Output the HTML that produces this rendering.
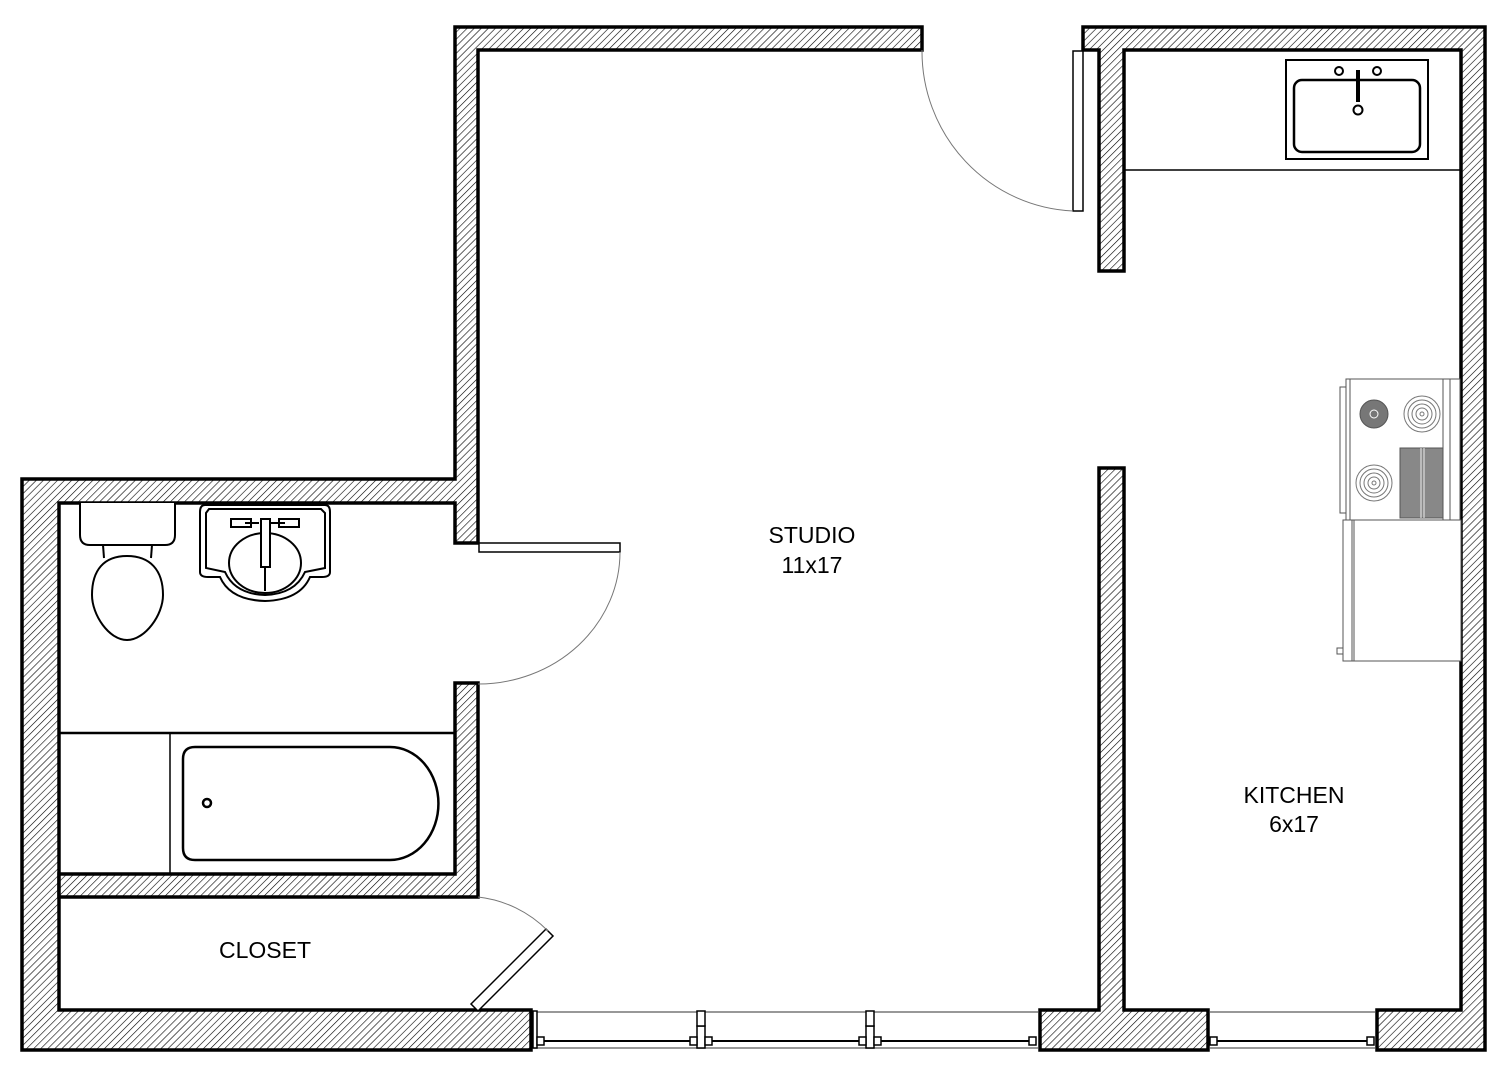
<!DOCTYPE html>
<html><head><meta charset="utf-8"><style>
html,body{margin:0;padding:0;background:#fff;}
svg{display:block;}
text{font-family:"Liberation Sans",Arial,sans-serif;font-size:23px;fill:#000;}
</style></head><body>
<svg width="1499" height="1065" viewBox="0 0 1499 1065" xmlns="http://www.w3.org/2000/svg">
<defs>
<pattern id="h" width="5" height="5" patternUnits="userSpaceOnUse" patternTransform="rotate(45)">
<rect width="5" height="5" fill="#fff"/>
<line x1="0" y1="0" x2="0" y2="5" stroke="#000" stroke-width="1.2"/>
</pattern>
</defs>
<rect width="1499" height="1065" fill="#fff"/>
<g fill="url(#h)" stroke="#000" stroke-width="3.5" stroke-linejoin="miter">
<polygon points="455,27 922,27 922,50 478,50 478,543 455,543 455,503 59,503 59,1010 531,1010 531,1050 22,1050 22,479 455,479"/>
<polygon points="455,683 478,683 478,897 59,897 59,874 455,874"/>
<polygon points="1083,27 1485,27 1485,1050 1377,1050 1377,1010 1461,1010 1461,50 1124,50 1124,271 1099,271 1099,50 1083,50"/>
<polygon points="1099,468 1124,468 1124,1010 1208,1010 1208,1050 1040,1050 1040,1010 1099,1010"/>
</g>
<!-- windows -->
<g fill="none" stroke="#000">
<line x1="533" y1="1012" x2="1038" y2="1012" stroke="#777" stroke-width="1.5"/>
<line x1="533" y1="1048" x2="1038" y2="1048" stroke="#777" stroke-width="1.5"/>
<line x1="540" y1="1041" x2="1033" y2="1041" stroke-width="2"/>
<line x1="1210" y1="1012" x2="1375" y2="1012" stroke="#777" stroke-width="1.5"/>
<line x1="1210" y1="1048" x2="1375" y2="1048" stroke="#777" stroke-width="1.5"/>
<line x1="1216" y1="1041" x2="1371" y2="1041" stroke-width="2"/>
<g stroke-width="1.5" fill="#fff">
<rect x="533" y="1011" width="4" height="37"/>
<rect x="537" y="1037" width="7" height="8"/>
<rect x="697" y="1026" width="8" height="22"/><rect x="697" y="1011" width="8" height="15"/>
<rect x="690" y="1037" width="7" height="8"/><rect x="705" y="1037" width="7" height="8"/>
<rect x="866" y="1026" width="8" height="22"/><rect x="866" y="1011" width="8" height="15"/>
<rect x="859" y="1037" width="7" height="8"/><rect x="874" y="1037" width="7" height="8"/>
<rect x="1029" y="1037" width="7" height="8"/>
<rect x="1210" y="1037" width="7" height="8"/>
<rect x="1367" y="1037" width="7" height="8"/>
</g>
</g>
<!-- doors -->
<g fill="#fff" stroke="#000" stroke-width="1.5">
<rect x="1073" y="51" width="10" height="160"/>
<rect x="479" y="543" width="141" height="9"/>
<polygon points="471,1004 546,929 553,936 478,1011"/>
</g>
<g fill="none" stroke="#777" stroke-width="1">
<path d="M922,50 A158 160 0 0 0 1073,211"/>
<path d="M620,552 A142 132 0 0 1 478,684"/>
<path d="M478,897 A116 116 0 0 1 548,931"/>
</g>
<!-- toilet -->
<g fill="#fff" stroke="#000" stroke-width="2">
<path d="M80,503 L80,535 Q80,545 90,545 L165,545 Q175,545 175,535 L175,503"/>
<line x1="103" y1="545" x2="104" y2="558"/><line x1="152" y1="545" x2="151" y2="558"/>
<path d="M127,556 C150,556 163,570 163,595 C163,615 145,640 127,640 C109,640 92,615 92,595 C92,570 104,556 127,556 Z"/>
</g>
<!-- bathroom sink -->
<g fill="#fff" stroke="#000" stroke-width="2">
<path d="M205,505 L325,505 Q330,505 330,512 L330,572 Q330,577 322,577 L310,577 Q300,600 265,601 Q230,600 220,577 L208,577 Q200,577 200,572 L200,512 Q200,505 205,505 Z"/>
<path d="M209,509 L321,509 L325,513 L325,568 L305,572 Q295,594 265,595 Q235,594 225,572 L206,568 L206,513 Z"/>
<ellipse cx="265" cy="563" rx="36" ry="30"/>
<line x1="265" y1="567" x2="265" y2="591"/>
<rect x="261" y="519" width="9" height="48"/>
<rect x="231" y="519" width="20" height="8"/><rect x="279" y="519" width="20" height="8"/>
<line x1="245" y1="523" x2="259" y2="523"/><line x1="271" y1="523" x2="285" y2="523"/>
</g>
<!-- tub -->
<g fill="none" stroke="#000" stroke-width="2.5">
<line x1="59" y1="733" x2="455" y2="733"/>
<line x1="170" y1="733" x2="170" y2="874" stroke-width="1.5"/>
<path d="M195,747 L390,747 A48 56 0 0 1 390,860 L195,860 Q183,860 183,848 L183,759 Q183,747 195,747 Z"/>
<circle cx="207" cy="803" r="4"/>
</g>
<!-- kitchen counter + sink -->
<g fill="none" stroke="#000">
<line x1="1124" y1="170" x2="1461" y2="170" stroke-width="1.5"/>
<rect x="1286" y="60" width="142" height="99" stroke-width="2"/>
<rect x="1294" y="80" width="126" height="72" rx="8" stroke-width="2.5"/>
<circle cx="1339" cy="71" r="4" stroke-width="2"/><circle cx="1377" cy="71" r="4" stroke-width="2"/>
<line x1="1358" y1="70" x2="1358" y2="102" stroke-width="4"/>
<circle cx="1358" cy="110" r="4.5" stroke-width="2"/>
</g>
<!-- stove -->
<g fill="none" stroke="#555" stroke-width="1">
<rect x="1346" y="379" width="114" height="141" fill="#fff"/>
<rect x="1340" y="387" width="6" height="126"/>
<line x1="1350" y1="379" x2="1350" y2="520"/>
<line x1="1443" y1="379" x2="1443" y2="520"/><line x1="1450" y1="379" x2="1450" y2="520"/>
<rect x="1400" y="448" width="43" height="70" fill="#888"/>
<line x1="1421" y1="448" x2="1421" y2="518" stroke="#eee"/><line x1="1424" y1="448" x2="1424" y2="518" stroke="#eee"/>
<circle cx="1374" cy="414" r="14" fill="#777"/><circle cx="1374" cy="414" r="4" stroke="#fff"/>
<g stroke="#777">
<circle cx="1422" cy="414" r="18"/><circle cx="1422" cy="414" r="14"/><circle cx="1422" cy="414" r="10"/><circle cx="1422" cy="414" r="6"/><circle cx="1422" cy="414" r="2"/>
<circle cx="1374" cy="483" r="18"/><circle cx="1374" cy="483" r="14"/><circle cx="1374" cy="483" r="10"/><circle cx="1374" cy="483" r="6"/><circle cx="1374" cy="483" r="2"/>
</g>
<rect x="1343" y="520" width="118" height="141" fill="#fff"/>
<line x1="1352" y1="520" x2="1352" y2="661"/><line x1="1354" y1="520" x2="1354" y2="661"/>
<rect x="1337" y="648" width="6" height="6"/>
</g>
<text x="812" y="543" text-anchor="middle">STUDIO</text>
<text x="812" y="573" text-anchor="middle">11x17</text>
<text x="1294" y="803" text-anchor="middle">KITCHEN</text>
<text x="1294" y="832" text-anchor="middle">6x17</text>
<text x="265" y="958" text-anchor="middle">CLOSET</text>
</svg>
</body></html>
